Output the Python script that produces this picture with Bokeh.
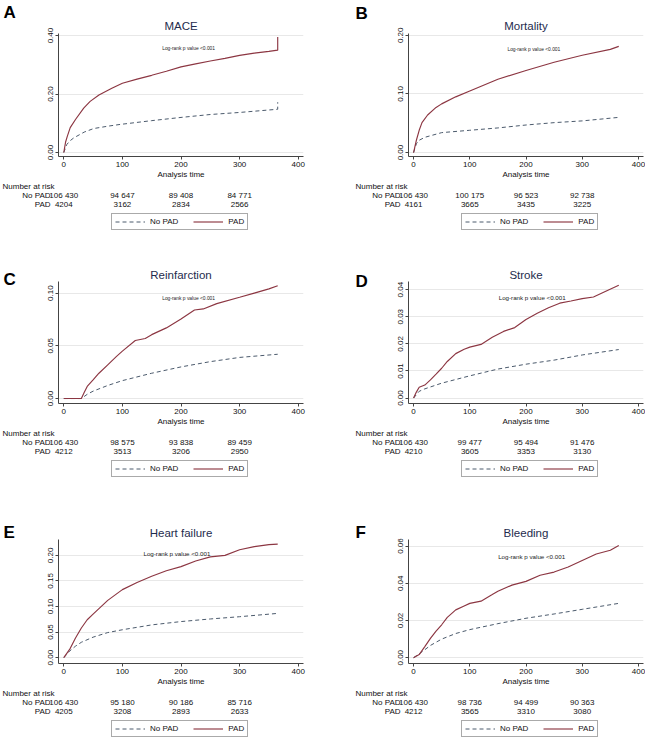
from bokeh.plotting import figure
from bokeh.models import Range1d, FixedTicker, NumeralTickFormatter, Label, Legend, LegendItem, ColumnDataSource
from bokeh.layouts import column, row
from bokeh.core.properties import value
from bokeh.embed import file_html
from bokeh.resources import INLINE

FONT = "Liberation Sans"
NOPAD_COLOR = "#4b5a6c"
PAD_COLOR = "#8c3642"
TXT = "#111111"

# ---------------- data ----------------
titles = ["MACE", "Mortality", "Reinfarction", "Stroke", "Heart failure", "Bleeding"]
letters = ["A", "B", "C", "D", "E", "F"]
x_ticks = [0, 100, 200, 300, 400]
y_ticks = [
    [0.0, 0.2, 0.4],
    [0.0, 0.1, 0.2],
    [0.0, 0.05, 0.10],
    [0.0, 0.01, 0.02, 0.03, 0.04],
    [0.0, 0.05, 0.10, 0.15, 0.20],
    [0.0, 0.02, 0.04, 0.06],
]

# MACE
mace_pad_t = [0, 3, 6, 11, 20, 34, 45, 60, 82, 100, 125, 150, 175, 200, 225, 250, 275, 300, 325, 350, 365, 365]
mace_pad = [0.0, 0.035, 0.055, 0.085, 0.113, 0.152, 0.175, 0.197, 0.22, 0.237, 0.251, 0.264, 0.278, 0.293, 0.303,
            0.313, 0.322, 0.332, 0.340, 0.346, 0.350, 0.395]
mace_nopad_t = [0, 5, 10, 17, 35, 51, 75, 96, 150, 200, 250, 300, 365, 365]
mace_nopad = [0.0, 0.027, 0.039, 0.05, 0.07, 0.082, 0.09, 0.096, 0.109, 0.12, 0.13, 0.137, 0.148, 0.172]

# Mortality
mort_pad_t = [0, 5, 10, 15, 25, 40, 50, 75, 100, 150, 200, 250, 300, 350, 365]
mort_pad = [0.0, 0.021, 0.038, 0.051, 0.064, 0.077, 0.083, 0.095, 0.105, 0.125, 0.14, 0.154, 0.166, 0.176, 0.181]
mort_nopad_t = [0, 5, 10, 20, 50, 100, 150, 200, 250, 300, 365]
mort_nopad = [0.0, 0.015, 0.021, 0.026, 0.034, 0.038, 0.042, 0.047, 0.051, 0.054, 0.06]

# Reinfarction
rein_pad_t = [0, 30, 35, 40, 50, 60, 75, 90, 100, 122, 139, 150, 175, 200, 223, 238, 261, 300, 325, 350, 365]
rein_pad = [0.0, 0.0, 0.006, 0.0115, 0.0177, 0.024, 0.032, 0.04, 0.045, 0.055, 0.057, 0.0606, 0.067, 0.0755,
            0.084, 0.085, 0.09, 0.096, 0.100, 0.104, 0.107]
rein_nopad_t = [0, 30, 40, 50, 75, 100, 150, 200, 250, 300, 365]
rein_nopad = [0.0, 0.0, 0.004, 0.007, 0.0124, 0.017, 0.024, 0.03, 0.035, 0.039, 0.042]

# Stroke
strk_pad_t = [0, 5, 10, 20, 30, 40, 50, 60, 75, 90, 100, 120, 140, 160, 180, 200, 220, 240, 260, 280, 300,
              320, 340, 365]
strk_pad = [0.0, 0.0022, 0.004, 0.0048, 0.0067, 0.0088, 0.011, 0.0135, 0.0164, 0.018, 0.0188, 0.0198, 0.0224,
            0.0246, 0.026, 0.029, 0.0313, 0.0333, 0.035, 0.0358, 0.0367, 0.0373, 0.0392, 0.0416]
strk_nopad_t = [0, 10, 20, 50, 100, 150, 200, 250, 300, 365]
strk_nopad = [0.0, 0.0025, 0.0034, 0.0055, 0.0082, 0.0107, 0.0125, 0.014, 0.0159, 0.0179]

# Heart failure
hf_pad_t = [0, 10, 20, 30, 40, 50, 75, 100, 125, 150, 175, 200, 225, 250, 275, 300, 325, 350, 365]
hf_pad = [0.0, 0.016, 0.0385, 0.058, 0.074, 0.085, 0.112, 0.133, 0.147, 0.159, 0.17, 0.178, 0.189, 0.197, 0.2,
          0.211, 0.217, 0.221, 0.222]
hf_nopad_t = [0, 10, 20, 30, 50, 75, 100, 150, 200, 250, 300, 365]
hf_nopad = [0.0, 0.0128, 0.0224, 0.03, 0.04, 0.049, 0.0545, 0.064, 0.0705, 0.0756, 0.08, 0.0865]

# Bleeding
bl_pad_t = [0, 10, 20, 30, 40, 50, 60, 75, 90, 100, 120, 140, 150, 175, 200, 225, 250, 275, 300, 325, 350, 365]
bl_pad = [0.0, 0.0017, 0.006, 0.0104, 0.0143, 0.0177, 0.0217, 0.0257, 0.0278, 0.0292, 0.0304, 0.0339, 0.0357,
          0.039, 0.041, 0.0443, 0.046, 0.0487, 0.0522, 0.0557, 0.0577, 0.0603]
bl_nopad_t = [0, 10, 20, 30, 50, 75, 100, 150, 200, 250, 300, 365]
bl_nopad = [0.0, 0.0021, 0.0043, 0.0066, 0.01, 0.013, 0.0151, 0.0183, 0.0212, 0.0235, 0.026, 0.0292]

pad_t = [mace_pad_t, mort_pad_t, rein_pad_t, strk_pad_t, hf_pad_t, bl_pad_t]
pad_v = [mace_pad, mort_pad, rein_pad, strk_pad, hf_pad, bl_pad]
nopad_t = [mace_nopad_t, mort_nopad_t, rein_nopad_t, strk_nopad_t, hf_nopad_t, bl_nopad_t]
nopad_v = [mace_nopad, mort_nopad, rein_nopad, strk_nopad, hf_nopad, bl_nopad]

risk_times = [0, 100, 200, 300]
risk_nopad = [
    [106430, 94647, 89408, 84771],
    [106430, 100175, 96523, 92738],
    [106430, 98575, 93838, 89459],
    [106430, 99477, 95494, 91476],
    [106430, 95180, 90186, 85716],
    [106430, 98736, 94499, 90363],
]
risk_pad = [
    [4204, 3162, 2834, 2566],
    [4161, 3665, 3435, 3225],
    [4212, 3513, 3206, 2950],
    [4210, 3605, 3353, 3130],
    [4205, 3208, 2893, 2633],
    [4212, 3565, 3310, 3080],
]
group_labels = ["No PAD", "PAD"]
logrank_text = "Log-rank p value <0.001"

# ---------------- layout constants ----------------
XR = (-9, 409)
COL_W = [326, 319]
BL = [58, 82]           # frame left offset within column
BR = [23, 2]
LW = [18, 44]           # width of the letter strip
LETTER_X = [3, 29]
RISK_X = [2, 29]
ROW_TOP = [33, 48, 59]  # top border of KM plot
FH = [124, 123, 125]    # frame height
BOT = 24                # space under frame for axis + label
TABLE_H = [52, 52, 51]
LETTER_TOP = [2, 3, 36, 38, 42, 42]
TITLE_STANDOFF = [4, 2, 2]
YLIM = [(-0.0136, 0.407), (-0.0067, 0.203), (-0.0047, 0.111), (-0.002, 0.043), (-0.0115, 0.231), (-0.0031, 0.0635)]
LOGRANK_POS = [(213, 0.356, "4.9px"), (214, 0.175, "4.9px"), (213, 0.0953, "4.9px"),
               (211, 0.037, "6.2px"), (193, 0.204, "6.2px"), (210, 0.0543, "6.2px")]


def fmt(n):
    return f"{n:,}".replace(",", " ") if n >= 10000 else str(n)


def blank(w, h, xr, yr):
    f = figure(width=w, height=h, output_backend="svg", toolbar_location=None,
               x_range=Range1d(*xr), y_range=Range1d(*yr), x_axis_type=None, y_axis_type=None,
               min_border_left=0, min_border_right=0, min_border_top=0, min_border_bottom=0)
    f.frame_align = False
    f.outline_line_color = None
    f.grid.visible = False
    f.background_fill_color = "white"
    f.border_fill_color = "white"
    return f


def panel(i):
    r, c = divmod(i, 2)
    W = COL_W[c]
    km_h = ROW_TOP[r] + FH[r] + BOT

    # ---- letter strip ----
    lf = blank(LW[c], km_h, (0, LW[c]), (km_h, 0))
    lf.text(x=[LETTER_X[c]], y=[LETTER_TOP[i]], text=[letters[i]], text_align="left", text_baseline="top",
            text_font=value(FONT), text_font_size="17px", text_font_style="bold", text_color="black")

    # ---- KM plot ----
    p = figure(width=W - LW[c], height=km_h, output_backend="svg", toolbar_location=None,
               x_range=Range1d(*XR), y_range=Range1d(*YLIM[i]),
               min_border_left=BL[c] - LW[c], min_border_right=BR[c],
               min_border_top=ROW_TOP[r], min_border_bottom=BOT, title=titles[i])
    p.frame_align = False
    p.outline_line_color = None
    p.background_fill_color = "white"
    p.border_fill_color = "white"
    p.title.align = "center"
    p.title.text_font = FONT
    p.title.text_font_size = "11.5px"
    p.title.text_font_style = "normal"
    p.title.text_color = "#1e2b4d"
    p.title.standoff = TITLE_STANDOFF[r]

    p.xgrid.visible = False
    p.ygrid.grid_line_color = "#e8e8e8"
    p.ygrid.grid_line_width = 1

    xa = p.xaxis[0]
    xa.ticker = FixedTicker(ticks=x_ticks)
    xa.axis_label = "Analysis time"
    ya = p.yaxis[0]
    ya.ticker = FixedTicker(ticks=y_ticks[i])
    ya.formatter = NumeralTickFormatter(format="0.00")
    ya.major_label_orientation = "vertical"
    for ax in (xa, ya):
        ax.axis_line_color = "#444444"
        ax.major_tick_line_color = "#444444"
        ax.minor_tick_line_color = None
        ax.major_tick_in = 0
        ax.major_tick_out = 3
        ax.major_label_standoff = 2
        ax.major_label_text_font = FONT
        ax.major_label_text_font_size = "8px"
        ax.major_label_text_color = TXT
        ax.axis_label_text_font = FONT
        ax.axis_label_text_font_size = "8px"
        ax.axis_label_text_font_style = "normal"
        ax.axis_label_text_color = TXT
        ax.axis_label_standoff = 0

    p.line(nopad_t[i], nopad_v[i], line_color=NOPAD_COLOR, line_dash="4 3", line_width=1.0)
    p.line(pad_t[i], pad_v[i], line_color=PAD_COLOR, line_width=1.15)

    lx, ly, lfs = LOGRANK_POS[i]
    p.add_layout(Label(x=lx, y=ly, text=logrank_text, text_align="center", text_baseline="middle",
                       text_font=FONT, text_font_size=lfs, text_color="#222222"))

    # ---- number-at-risk table + legend ----
    s = (W - BL[c] - BR[c]) / (XR[1] - XR[0])   # px per day
    th = TABLE_H[r]
    t_xr = (XR[0] - BL[c] / s, XR[1] + BR[c] / s)
    tf = blank(W, th, t_xr, (th, 0))

    def xd(px):
        return XR[0] + (px - BL[c]) / s

    style = dict(text_font=value(FONT), text_font_size="8px", text_color=TXT, text_baseline="middle")
    tf.text(x=[xd(RISK_X[c])], y=[5], text=["Number at risk"], text_align="left", **style)
    tf.text(x=[xd(BL[c] - 8)] * 2, y=[14, 23], text=group_labels, text_align="right", **style)
    src = ColumnDataSource(dict(
        x=risk_times + risk_times,
        y=[14] * len(risk_times) + [23] * len(risk_times),
        t=[fmt(n) for n in risk_nopad[i]] + [fmt(n) for n in risk_pad[i]],
    ))
    tf.text(x="x", y="y", text="t", source=src, text_align="center", **style)

    # legend-only renderers (placed outside the visible frame)
    off = [t_xr[0] - 50, t_xr[0] - 40]
    d1 = tf.line(x=off, y=[th + 50, th + 50], line_color=NOPAD_COLOR, line_dash="4 3", line_width=1.0)
    d2 = tf.line(x=off, y=[th + 50, th + 50], line_color=PAD_COLOR, line_width=1.15)
    leg = Legend(items=[LegendItem(label=group_labels[0], renderers=[d1]),
                        LegendItem(label=group_labels[1], renderers=[d2])],
                 orientation="horizontal", location=(BL[c] + 53, th - 49), glyph_width=30, glyph_height=9,
                 label_height=9, label_width=10, label_standoff=5, spacing=15, padding=3, margin=0,
                 border_line_color="#555555", border_line_width=1,
                 label_text_font=FONT, label_text_font_size="8px", label_text_color=TXT,
                 background_fill_color="white", background_fill_alpha=1.0)
    tf.add_layout(leg)

    return column(row(lf, p), tf)


panels = [panel(i) for i in range(6)]
layout = column(row(panels[0], panels[1]), row(panels[2], panels[3]), row(panels[4], panels[5]))

open("out.html", "w").write(file_html(layout, INLINE))
